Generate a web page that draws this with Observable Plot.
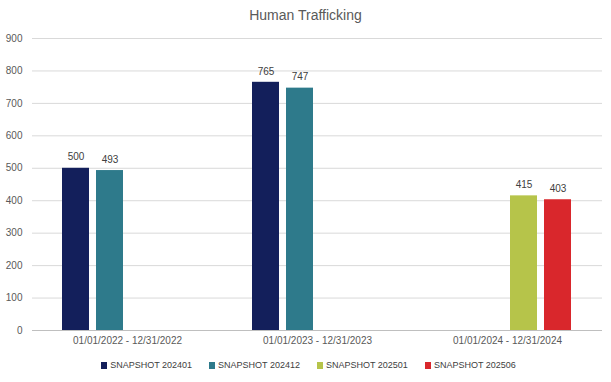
<!DOCTYPE html>
<html>
<head>
<meta charset="utf-8">
<script src="https://cdn.jsdelivr.net/npm/d3@7"></script>
<script src="https://cdn.jsdelivr.net/npm/@observablehq/plot@0.6"></script>
<style>
  body { margin: 0; background: #fff; font-family: "Liberation Sans", Arial, sans-serif; }
  #wrap { width: 611px; }
  #title { height: 26px; line-height: 30px; text-align: center; font-size: 14px; color: #595959; }
  #legend { display: flex; justify-content: center; gap: 17px; font-size: 9px; color: #404040; margin-top: 6px; padding-left: 6px; }
  #legend span.item { display: flex; align-items: center; }
  #legend span.sw { width: 6px; height: 7px; margin-right: 3px; display: inline-block; }
</style>
</head>
<body>
<div id="wrap">
  <div id="title">Human Trafficking</div>
  <div id="chart"></div>
  <div id="legend"></div>
</div>
<script>
const periods = ["01/01/2022 - 12/31/2022", "01/01/2023 - 12/31/2023", "01/01/2024 - 12/31/2024"];
const series = ["SNAPSHOT 202401", "SNAPSHOT 202412", "SNAPSHOT 202501", "SNAPSHOT 202506"];
const colors = ["#131f5b", "#2e7a8b", "#b6c44a", "#d9272c"];
const v2022 = [500, 493, null, null];
const v2023 = [765, 747, null, null];
const v2024 = [null, null, 415, 403];
const yTicks = [0, 100, 200, 300, 400, 500, 600, 700, 800, 900];

const rows = [];
[v2022, v2023, v2024].forEach((vals, i) => {
  vals.forEach((v, j) => { if (v != null) rows.push({period: periods[i], series: series[j], value: v}); });
});

const chart = Plot.plot({
  width: 611,
  height: 328,
  marginTop: 12,
  marginBottom: 24,
  marginLeft: 32,
  marginRight: 9,
  style: {fontFamily: "'Liberation Sans', Arial, sans-serif", fontSize: "10px", color: "#595959"},
  fx: {domain: periods, padding: 0, label: null, axis: "bottom", tickSize: 0, tickPadding: 6},
  x: {domain: series, paddingInner: 0.2, paddingOuter: 0.85, axis: null},
  y: {domain: [0, 900], ticks: yTicks, tickSize: 0, tickPadding: 10, label: null},
  color: {domain: series, range: colors},
  marks: [
    Plot.ruleY(yTicks, {stroke: "#d9d9d9"}),
    Plot.barY(rows, {fx: "period", x: "series", y: "value", fill: "series"}),
    Plot.ruleY([0], {stroke: "#bfbfbf"}),
    Plot.text(rows, {fx: "period", x: "series", y: "value", text: d => String(d.value), dy: -11, fill: "#404040", fontSize: 10})
  ]
});
document.getElementById("chart").appendChild(chart);

const leg = document.getElementById("legend");
series.forEach((s, i) => {
  const it = document.createElement("span");
  it.className = "item";
  const sw = document.createElement("span");
  sw.className = "sw";
  sw.style.background = colors[i];
  it.appendChild(sw);
  it.appendChild(document.createTextNode(s));
  leg.appendChild(it);
});
</script>
</body>
</html>
